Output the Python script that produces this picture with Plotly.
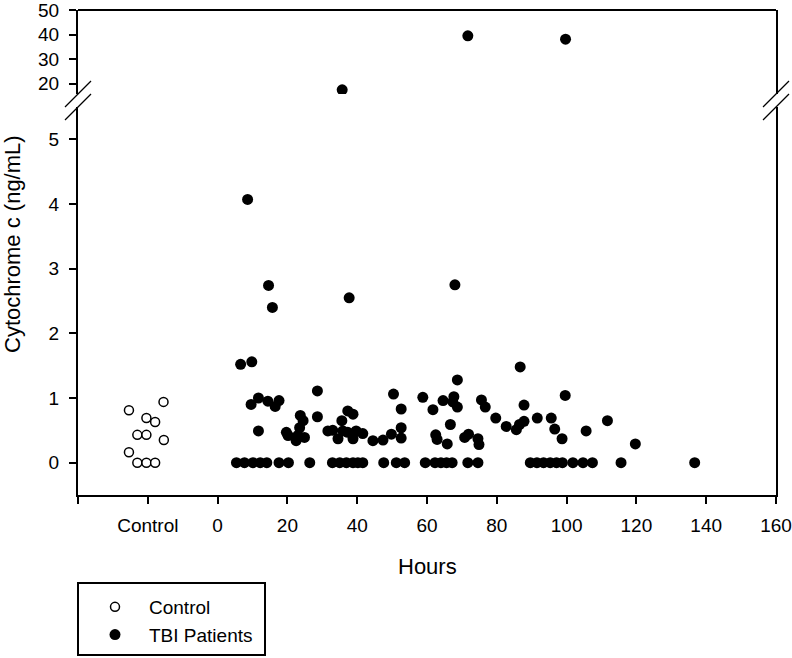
import plotly.graph_objects as go

# ---------------- data ----------------
control_hours = [-25.4, -15.5, -20.4, -17.9, -23.0, -20.4, -15.4, -25.4, -23.0, -20.4, -17.9]
control_values = [0.81, 0.94, 0.69, 0.63, 0.43, 0.43, 0.35, 0.16, 0.0, 0.0, 0.0]

tbi_hours = [
    35.7, 71.7, 99.7,
    8.6, 14.6, 15.7, 37.7, 68.0,
    6.6, 9.8, 86.7, 68.7,
    9.6, 11.7, 14.4, 16.5, 17.6, 28.6, 50.4, 58.8, 64.6, 67.7, 67.4, 68.7, 75.6, 76.7, 87.8, 99.6,
    11.7, 19.7, 20.2, 23.7, 24.5, 23.5, 23.0, 22.5, 24.9, 28.6, 31.6, 33.0, 34.5, 35.6, 37.3, 38.8,
    35.9, 37.3, 38.8, 39.7, 41.6, 44.5, 47.4, 49.8, 52.6, 52.6, 52.6, 61.7, 62.5, 62.9,
    66.7, 65.8, 70.8, 71.9, 74.6, 74.9, 79.7, 82.7, 85.6, 86.5, 87.8, 91.6, 95.6, 96.6, 98.7,
    105.6, 111.7, 119.7,
    5.4, 7.7, 10.1, 12.2, 14.1, 17.6, 20.3, 26.4, 32.9, 35.0, 36.9, 38.8, 40.2, 41.6, 47.6,
    51.2, 53.6, 59.5, 62.3, 64.0, 65.6, 67.2, 71.7, 74.6, 89.6, 91.5, 93.4, 95.3, 97.1, 98.8,
    101.8, 104.7, 107.4, 115.6, 136.7,
]
tbi_values = [
    17.5, 39.5, 38.1,
    4.07, 2.74, 2.40, 2.55, 2.75,
    1.52, 1.56, 1.48, 1.28,
    0.90, 1.00, 0.95, 0.87, 0.96, 1.11, 1.06, 1.01, 0.96, 1.02, 0.94, 0.86, 0.97, 0.86, 0.89, 1.04,
    0.49, 0.47, 0.42, 0.73, 0.65, 0.54, 0.42, 0.34, 0.39, 0.71, 0.49, 0.50, 0.37, 0.65, 0.80, 0.75,
    0.49, 0.47, 0.37, 0.49, 0.45, 0.34, 0.35, 0.44, 0.83, 0.54, 0.38, 0.82, 0.43, 0.36,
    0.59, 0.29, 0.39, 0.44, 0.37, 0.28, 0.69, 0.56, 0.51, 0.59, 0.64, 0.69, 0.69, 0.52, 0.37,
    0.49, 0.65, 0.29,
    0, 0, 0, 0, 0, 0, 0, 0, 0, 0, 0, 0, 0, 0, 0,
    0, 0, 0, 0, 0, 0, 0, 0, 0, 0, 0, 0, 0, 0, 0,
    0, 0, 0, 0, 0,
]

x_tick_vals = [-40, -20, 0, 20, 40, 60, 80, 100, 120, 140, 160]
x_tick_text = ["", "Control", "0", "20", "40", "60", "80", "100", "120", "140", "160"]
low_ticks = [0, 1, 2, 3, 4, 5]
high_ticks = [20, 30, 40, 50]
low_range = [-0.5, 5.5]
high_range = [15.8, 50]
x_range = [-40, 160]
break_at = 10  # values above go on the upper segment

# ---------------- layout geometry ----------------
W, H = 792, 658
ML, MR, MT, MB = 78, 16, 10, 163
PW, PH = W - ML - MR, H - MT - MB
d_lo = (495 - 107) / PH   # top of lower segment
d_hi = (495 - 94) / PH    # bottom of upper segment

FONT = "Liberation Sans, Arial, sans-serif"

lo_h = [h for h, v in zip(tbi_hours, tbi_values) if v < break_at]
lo_v = [v for v in tbi_values if v < break_at]
hi_h = [h for h, v in zip(tbi_hours, tbi_values) if v >= break_at]
hi_v = [v for v in tbi_values if v >= break_at]

fig = go.Figure()
fig.add_trace(go.Scatter(
    x=control_hours, y=control_values, mode="markers", name="Control",
    marker=dict(symbol="circle", size=9, color="white", line=dict(color="black", width=1.5)),
    xaxis="x", yaxis="y", legendrank=1,
))
fig.add_trace(go.Scatter(
    x=lo_h, y=lo_v, mode="markers", name="TBI Patients", legendgroup="tbi",
    marker=dict(symbol="circle", size=11, color="black", line=dict(width=0)),
    xaxis="x", yaxis="y", legendrank=2,
))
fig.add_trace(go.Scatter(
    x=hi_h, y=hi_v, mode="markers", name="TBI Patients", legendgroup="tbi", showlegend=False,
    marker=dict(symbol="circle", size=11, color="black", line=dict(width=0)),
    xaxis="x", yaxis="y2",
))

axis_common = dict(
    showline=True, linecolor="black", linewidth=2,
    ticks="outside", ticklen=7, tickwidth=1.5, tickcolor="black",
    showgrid=False, zeroline=False, ticklabeloverflow="allow", automargin=False,
    tickfont=dict(family=FONT, size=19, color="black"),
)

fig.update_layout(
    width=W, height=H, autosize=False,
    margin=dict(l=ML, r=MR, t=MT, b=MB, autoexpand=False),
    paper_bgcolor="white", plot_bgcolor="white",
    font=dict(family=FONT, color="black"),
    xaxis=dict(domain=[0, 1], range=x_range, tickmode="array", ticklabelstandoff=5,
               tickvals=x_tick_vals, ticktext=x_tick_text, anchor="y", **axis_common),
    yaxis=dict(domain=[0, d_lo], range=low_range, tickmode="array", tickvals=low_ticks,
               anchor="x", mirror=True, ticklabelstandoff=6, **axis_common),
    yaxis2=dict(domain=[d_hi, 1], range=high_range, tickmode="array", tickvals=high_ticks,
                anchor="x", mirror=True, ticklabelstandoff=6, **axis_common),
    showlegend=True,
    legend=dict(xref="container", yref="container",
                x=81 / W, y=1 - 588 / H, xanchor="left", yanchor="top",
                borderwidth=0, bgcolor="rgba(0,0,0,0)", itemwidth=58,
                font=dict(family=FONT, size=19, color="black"), tracegroupgap=0),
)

# axis titles as text
fig.add_annotation(text="Cytochrome c (ng/mL)", xref="paper", yref="paper",
                   x=(13 - ML) / PW, y=(495 - 244) / PH, textangle=-90,
                   showarrow=False, xanchor="center", yanchor="middle",
                   font=dict(family=FONT, size=22, color="black"))
fig.add_annotation(text="Hours", xref="paper", yref="paper",
                   x=0.5, y=(495 - 566) / PH, showarrow=False,
                   xanchor="center", yanchor="middle",
                   font=dict(family=FONT, size=22, color="black"))

# frame top line
shapes = [dict(type="line", xref="paper", yref="paper", x0=0, x1=1, y0=1, y1=1,
               line=dict(color="black", width=2))]
# axis break marks on both sides
dx, dy = 13 / PW, 13 / PH
for xs in (0, 1):
    for yc in (d_hi, d_lo):
        shapes.append(dict(type="line", xref="paper", yref="paper",
                           x0=xs - dx, y0=yc - dy, x1=xs + dx, y1=yc + dy,
                           line=dict(color="black", width=1.2)))
# legend frame
shapes.append(dict(type="rect", xref="paper", yref="paper",
                   x0=0, x1=(265 - ML) / PW, y0=(495 - 583) / PH, y1=(495 - 655) / PH,
                   line=dict(color="black", width=2), fillcolor="rgba(0,0,0,0)"))
fig.update_layout(shapes=shapes)

fig.write_html("out.html", config={"displayModeBar": False},
               post_script="document.body.style.margin='0';document.body.style.overflow='hidden';")
